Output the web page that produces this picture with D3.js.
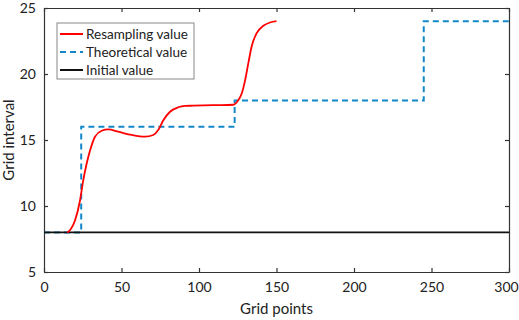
<!DOCTYPE html>
<html>
<head>
<meta charset="utf-8">
<script src="https://cdn.jsdelivr.net/npm/d3@7"></script>
<style>
  body { margin: 0; background: #fff; }
  text { font-family: Lato, sans-serif; fill: #222; }
</style>
</head>
<body>
<svg id="drawing_region"></svg>
<script>
// resampled curve
const resampleX = [15, 17, 20, 23.2, 25.4, 27.5, 29.7, 32.9, 37.2, 41.5, 47.9, 56.6, 65.2, 70.5, 73.7, 77, 81.3, 86.6, 91, 96.3, 109.2, 122.1, 125.4, 127.5, 129.7, 131.8, 134, 137.2, 141.5, 145.8, 150];
const resampleY = [8, 8.2, 8.9, 10.4, 12, 13.2, 14.2, 15.25, 15.7, 15.8, 15.63, 15.38, 15.25, 15.38, 15.76, 16.5, 17.14, 17.48, 17.58, 17.6, 17.64, 17.67, 18.03, 18.5, 19.5, 20.8, 22.1, 23.1, 23.65, 23.9, 24];

// theoretical step values
const theoryX = [0, 24, 123, 245, 300];
const theoryY = [8, 16, 18, 24, 24];

const initialX = [0, 300];
const initialY = [8, 8];

const xTicks = [0, 50, 100, 150, 200, 250, 300];
const yTicks = [5, 10, 15, 20, 25];

const legendLabels = ["Resampling value", "Theoretical value", "Initial value"];

const config = {
    width: 519,
    height: 320,
    margin: {top: 8, right: 10, bottom: 48, left: 44}
};

const svg = d3.select('#drawing_region')
    .attr('width', config.width)
    .attr('height', config.height);

const chart = svg.append('g')
    .attr('transform', `translate(${config.margin.left}, ${config.margin.top})`);

const inner_width = config.width - config.margin.left - config.margin.right;
const inner_height = config.height - config.margin.top - config.margin.bottom;

const xscale = d3.scaleLinear().domain([0, 300]).range([0, inner_width]);
const yscale = d3.scaleLinear().domain([5, 25]).range([inner_height, 0]);

// axes, ticks inward (matlab style box)
const axisColor = '#333';
const xaxis_bottom = chart.append('g')
    .attr('transform', `translate(0, ${inner_height})`)
    .call(d3.axisBottom(xscale).tickValues(xTicks).tickSizeInner(-4).tickSizeOuter(0).tickPadding(10));
const yaxis_left = chart.append('g')
    .call(d3.axisLeft(yscale).tickValues(yTicks).tickSizeInner(-4).tickSizeOuter(0).tickPadding(8));
const xaxis_top = chart.append('g')
    .call(d3.axisTop(xscale).tickValues(xTicks).tickSizeInner(-4).tickSizeOuter(0).tickFormat(''));
const yaxis_right = chart.append('g')
    .attr('transform', `translate(${inner_width}, 0)`)
    .call(d3.axisRight(yscale).tickValues(yTicks).tickSizeInner(-4).tickSizeOuter(0).tickFormat(''));

[xaxis_bottom, yaxis_left, xaxis_top, yaxis_right].forEach(g => {
    g.selectAll('path, line').attr('stroke', axisColor).attr('stroke-width', 1.2);
    g.selectAll('text').attr('font-size', '14px').attr('fill', '#222')
        .attr('font-family', 'Lato, sans-serif');
});
// last label sits a bit left so it stays inside the window
xaxis_bottom.selectAll('.tick text').filter(d => d === 300).attr('dx', -3);

const line = d3.line()
    .x(d => xscale(d[0]))
    .y(d => yscale(d[1]));

const blue = '#1487c8';

chart.append('path')
    .datum(d3.zip(theoryX, theoryY))
    .attr('fill', 'none')
    .attr('stroke', blue)
    .attr('stroke-width', 2)
    .attr('stroke-dasharray', '6,4')
    .attr('d', line.curve(d3.curveStepAfter));

chart.append('path')
    .datum(d3.zip(initialX, initialY))
    .attr('fill', 'none')
    .attr('stroke', '#111')
    .attr('stroke-width', 1.8)
    .attr('d', line.curve(d3.curveLinear));

chart.append('path')
    .datum(d3.zip(resampleX, resampleY))
    .attr('fill', 'none')
    .attr('stroke', '#ff0000')
    .attr('stroke-width', 1.8)
    .attr('d', line.curve(d3.curveMonotoneX));

// legend
const legend = chart.append('g')
    .attr('transform', 'translate(13, 15)');
legend.append('rect')
    .attr('width', 137)
    .attr('height', 56)
    .attr('fill', '#fff')
    .attr('stroke', '#888')
    .attr('stroke-width', 1);

const legendStyles = [
    {color: '#ff0000', dash: null},
    {color: blue, dash: '6,4'},
    {color: '#111', dash: null}
];

legendLabels.forEach((label, i) => {
    const y = 11 + i * 18;
    legend.append('line')
        .attr('x1', 3).attr('x2', 26)
        .attr('y1', y).attr('y2', y)
        .attr('stroke', legendStyles[i].color)
        .attr('stroke-width', 2)
        .attr('stroke-dasharray', legendStyles[i].dash);
    legend.append('text')
        .attr('x', 29)
        .attr('y', y + 5)
        .attr('font-size', '13.5px')
        .text(label);
});

// axis labels
svg.append('text')
    .attr('text-anchor', 'middle')
    .attr('font-size', '15px')
    .attr('x', config.margin.left + inner_width / 2)
    .attr('y', 314)
    .text('Grid points');

svg.append('text')
    .attr('text-anchor', 'middle')
    .attr('font-size', '15px')
    .attr('transform', `translate(14, ${config.margin.top + inner_height / 2}) rotate(-90)`)
    .text('Grid interval');
</script>
</body>
</html>
